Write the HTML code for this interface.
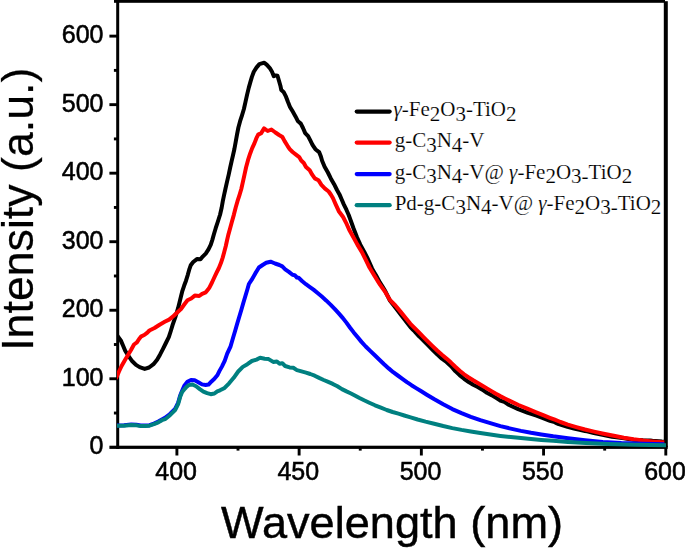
<!DOCTYPE html>
<html><head><meta charset="utf-8"><style>
html,body{margin:0;padding:0;background:#fff;overflow:hidden;}
svg{display:block;position:absolute;left:0;top:0;}
.ov{will-change:transform;}
</style></head><body>
<svg width="685" height="548" viewBox="0 0 685 548">
<defs><clipPath id="pa"><rect x="117" y="0" width="547.3" height="449"/></clipPath><clipPath id="pb"><rect x="117" y="0" width="549" height="449"/></clipPath></defs>
<rect width="685" height="548" fill="#fff"/>
<g fill="#000">
<rect x="116.2" y="0" width="3" height="449"/>
<rect x="109.4" y="445.7" width="558.3" height="3.2"/>
<rect x="114" y="0" width="551" height="2.8"/>
<rect x="663.8" y="1.2" width="4" height="446"/>
</g>
<g stroke="#000" stroke-width="2.9">
<line x1="109.4" y1="378.77" x2="118" y2="378.77"/><line x1="109.4" y1="310.24" x2="118" y2="310.24"/><line x1="109.4" y1="241.71" x2="118" y2="241.71"/><line x1="109.4" y1="173.18" x2="118" y2="173.18"/><line x1="109.4" y1="104.65" x2="118" y2="104.65"/><line x1="109.4" y1="36.12" x2="118" y2="36.12"/><line x1="113.9" y1="413.04" x2="118" y2="413.04"/><line x1="113.9" y1="344.50" x2="118" y2="344.50"/><line x1="113.9" y1="275.98" x2="118" y2="275.98"/><line x1="113.9" y1="207.44" x2="118" y2="207.44"/><line x1="113.9" y1="138.92" x2="118" y2="138.92"/><line x1="113.9" y1="70.38" x2="118" y2="70.38"/><line x1="176.90" y1="447" x2="176.90" y2="455.5"/><line x1="299.12" y1="447" x2="299.12" y2="455.5"/><line x1="421.35" y1="447" x2="421.35" y2="455.5"/><line x1="543.58" y1="447" x2="543.58" y2="455.5"/><line x1="665.80" y1="447" x2="665.80" y2="455.5"/><line x1="238.01" y1="447" x2="238.01" y2="450.6"/><line x1="360.24" y1="447" x2="360.24" y2="450.6"/><line x1="482.46" y1="447" x2="482.46" y2="450.6"/><line x1="604.69" y1="447" x2="604.69" y2="450.6"/>
</g>
<g fill="none" stroke-linejoin="round" stroke-linecap="round" stroke-width="4.0" clip-path="url(#pa)">
<polyline stroke="#000000" points="116.0,335.0 117.5,336.0 120.8,340.4 123.0,345.5 125.2,350.7 128.6,356.2 132.3,361.3 136.0,364.9 139.6,367.1 144.7,368.9 149.1,367.5 153.5,364.2 157.1,359.8 160.0,354.7 163.0,348.9 165.9,343.0 168.8,337.2 170.8,331.0 172.7,324.7 175.7,316.0 178.0,308.4 179.5,302.5 180.9,296.7 182.4,290.8 184.1,285.8 186.0,280.7 187.8,274.8 189.2,269.7 190.7,265.3 193.2,262.0 196.9,259.1 200.5,259.3 202.7,256.6 205.7,253.6 208.5,249.3 210.8,244.6 212.4,239.6 213.9,234.2 215.7,228.2 217.9,221.5 220.1,214.5 221.7,207.5 222.8,201.2 224.0,195.3 225.4,189.0 227.0,181.9 228.7,174.6 230.2,167.5 231.6,161.2 233.0,155.3 234.4,149.0 235.7,141.9 237.0,134.6 238.4,127.5 240.1,121.2 242.0,115.3 243.9,109.0 245.5,101.9 247.1,94.6 248.8,87.6 250.5,81.6 251.9,76.9 253.8,71.8 256.6,67.4 259.4,64.1 261.8,63.4 264.3,62.7 266.9,64.9 269.8,68.1 272.0,71.8 273.8,76.2 275.7,75.4 277.5,75.8 278.9,80.5 280.4,85.7 281.3,90.1 283.8,92.3 286.0,96.7 287.9,101.8 290.0,106.9 292.6,111.3 295.5,116.4 298.0,121.3 300.8,123.6 303.0,128.0 305.2,133.1 308.1,136.1 310.3,140.4 312.5,144.8 315.4,149.2 319.1,152.1 320.9,156.5 322.1,160.8 324.6,166.7 327.9,172.5 330.8,178.4 334.1,184.2 337.0,190.0 339.5,194.4 341.7,199.5 343.9,204.6 346.4,209.7 348.6,214.8 350.8,220.7 353.4,228.0 357.0,237.3 360.3,244.6 364.3,251.9 368.0,259.2 372.0,268.4 374.6,272.9 376.0,275.3 380.0,282.6 383.0,287.4 385.5,291.6 388.0,296.7 389.9,300.5 395.0,307.1 395.4,307.5 400.9,314.7 405.0,320.1 406.3,321.8 410.4,327.1 413.0,329.8 414.6,331.3 419.1,336.3 420.0,337.2 423.7,340.8 428.2,345.4 432.8,350.1 437.4,354.6 441.9,358.7 445.0,360.9 446.5,362.0 451.1,366.3 455.3,371.1 458.0,373.6 459.6,375.1 464.1,378.8 468.7,382.0 470.0,382.8 473.2,384.7 477.8,387.0 482.4,389.7 486.9,392.8 491.5,395.1 496.1,397.9 500.0,400.4 500.3,400.6 504.3,401.9 509.1,405.0 518.2,409.1 527.3,412.6 528.0,412.9 536.5,415.7 543.0,418.1 545.6,419.1 550.0,420.8 554.7,422.2 557.0,423.4 558.8,424.2 567.5,426.9 573.0,428.2 576.3,429.1 585.0,431.0 587.0,431.4 593.8,433.0 602.5,434.7 612.0,436.7 614.5,437.1 624.0,438.2 630.0,439.2 633.5,439.7 643.0,440.2 650.0,440.4 652.4,440.7 661.9,441.6 667.0,441.8"/>
<polyline stroke="#ff0000" points="116.0,378.0 117.5,375.0 119.0,371.5 121.6,366.0 125.0,360.0 128.0,355.0 131.0,350.0 134.0,344.5 136.9,342.4 139.1,339.0 141.3,336.3 144.2,335.0 147.1,332.8 149.4,330.5 154.5,328.0 159.6,324.7 164.7,321.8 169.1,319.6 173.5,316.0 177.5,312.2 181.0,309.0 184.6,304.0 187.5,300.3 191.2,298.5 194.8,295.6 199.2,296.0 202.1,293.8 205.8,292.3 208.0,289.6 209.4,287.6 212.0,282.5 214.4,277.2 216.7,272.4 218.9,268.0 220.9,263.1 222.7,257.6 224.3,251.8 225.8,246.0 227.0,240.5 228.3,234.9 230.0,228.7 231.9,221.8 233.9,214.6 235.7,207.5 237.5,201.2 239.4,195.3 241.3,189.0 242.9,181.9 244.5,174.6 246.1,167.3 248.0,160.2 250.1,153.7 252.2,148.1 254.4,143.4 256.4,138.2 258.2,134.6 261.2,133.1 264.1,128.4 267.7,131.0 271.4,129.5 275.4,132.5 279.1,135.0 282.4,137.0 284.6,141.1 287.5,145.8 289.7,149.1 292.6,152.0 296.3,154.9 299.2,157.1 301.2,160.5 303.8,163.0 306.0,167.0 309.7,170.3 312.2,174.7 314.8,178.4 318.4,180.2 321.4,184.9 325.0,188.6 328.7,191.5 330.8,194.5 332.9,198.0 335.8,204.6 338.8,211.2 343.1,217.0 346.1,222.8 349.2,229.7 353.4,237.3 357.4,244.6 361.8,251.9 365.4,259.2 369.5,267.5 374.6,276.0 380.0,284.7 385.5,292.4 389.9,300.0 395.4,305.5 400.9,312.1 406.3,318.7 410.4,323.8 414.7,328.1 419.2,332.7 423.7,337.3 428.2,341.9 432.8,346.4 437.4,350.8 441.9,354.8 446.5,358.6 451.0,362.6 455.3,366.7 459.7,370.7 464.1,374.3 468.7,377.5 473.2,380.3 477.8,383.0 482.4,385.7 486.9,388.4 491.5,391.1 495.9,393.7 500.2,396.1 504.9,398.5 510.8,401.4 518.5,405.0 527.3,408.7 536.2,412.3 543.8,415.4 549.8,417.8 554.8,419.7 560.5,422.0 567.8,424.6 576.3,427.1 585.0,429.5 594.0,431.6 603.6,433.7 613.8,435.8 623.8,437.7 633.5,439.3 643.0,440.6 652.2,441.4 660.3,442.0 667.0,442.3"/>
<polyline stroke="#0000ff" points="116.0,425.5 124.0,425.2 131.2,424.6 136.4,424.8 140.7,425.5 145.1,425.6 149.5,425.2 153.9,423.6 158.3,421.6 161.9,419.5 165.0,417.8 170.0,414.0 175.1,408.8 178.1,402.8 180.1,395.8 182.1,390.8 184.5,385.4 187.4,381.8 191.0,380.0 194.7,380.3 198.3,382.2 202.0,384.4 205.6,385.0 208.5,384.6 211.5,381.4 214.4,378.8 217.3,375.3 219.5,370.9 221.9,366.6 224.7,360.8 227.2,353.7 230.6,346.3 233.0,338.0 235.1,331.0 237.1,324.0 239.2,317.0 241.3,310.0 243.3,303.0 245.4,296.0 247.5,289.0 248.9,284.0 251.6,279.9 255.3,273.4 258.9,267.5 262.6,265.0 266.2,262.8 270.6,261.7 275.0,263.5 279.4,265.0 282.3,266.4 285.2,269.3 288.9,271.9 292.5,274.8 294.7,275.2 296.9,277.5 298.6,277.8 302.3,281.3 305.9,284.2 309.6,286.8 313.5,289.6 317.6,293.0 321.8,296.6 326.1,300.4 330.5,304.6 334.9,309.1 339.0,313.6 342.9,318.1 346.6,322.9 350.1,327.7 353.7,332.4 357.5,337.1 361.5,341.9 365.7,346.5 370.2,350.9 374.8,355.3 379.4,359.7 384.1,364.2 388.7,368.4 393.2,372.2 397.8,375.5 402.4,378.8 406.9,382.1 411.5,385.2 416.1,388.1 420.9,391.0 426.8,394.7 434.4,399.3 443.2,404.3 452.3,409.1 461.5,413.1 470.8,416.8 480.3,420.2 490.3,423.2 500.4,426.1 510.7,428.6 520.9,430.9 531.0,432.8 541.3,434.5 553.2,436.3 568.0,438.2 585.0,440.2 602.7,441.9 621.4,443.0 642.8,443.7 667.0,444.2"/>
</g>
<g fill="none" stroke-linejoin="round" stroke-linecap="round" stroke-width="4.0" clip-path="url(#pb)">
<polyline stroke="#008080" points="116.0,425.7 124.0,425.7 131.2,425.0 136.4,425.3 140.7,426.1 145.1,426.1 149.5,425.7 153.9,424.2 158.3,422.4 161.9,420.2 165.0,419.2 170.0,415.2 175.1,410.1 178.1,404.1 180.1,397.1 182.1,392.1 184.2,389.5 185.9,387.6 188.8,385.1 192.5,384.5 196.1,386.2 199.8,389.1 203.4,391.6 207.1,393.1 210.7,394.2 214.4,393.5 217.3,391.3 220.0,390.3 224.6,387.9 229.1,383.3 233.7,377.8 238.2,371.5 242.8,366.9 247.4,364.2 251.9,361.0 256.5,359.6 260.1,357.8 264.7,358.7 268.6,359.1 273.2,361.9 276.9,361.4 279.6,363.7 282.3,363.2 285.1,366.0 289.6,367.4 293.3,367.8 296.9,370.1 301.5,371.4 306.0,372.6 310.3,374.0 314.7,375.7 319.1,377.9 323.7,380.0 328.2,381.9 332.8,383.9 337.4,386.3 341.9,389.1 346.5,391.4 351.0,393.5 355.3,395.7 359.5,398.0 364.1,400.3 369.3,402.7 375.0,405.3 380.9,407.7 386.7,410.0 392.6,412.0 398.4,413.7 404.3,415.5 410.6,417.4 417.6,419.5 425.5,421.6 434.2,423.7 443.2,426.0 452.3,428.1 461.5,429.9 470.8,431.5 480.3,433.0 490.3,434.5 500.4,435.9 510.7,437.1 520.9,438.1 531.0,439.1 541.3,440.0 553.2,440.8 568.0,441.9 585.8,443.0 607.7,444.0 635.3,444.8 667.0,445.3"/>
</g>
<g font-family="Liberation Serif, serif" font-size="21" fill="#000" stroke="#fff" stroke-width="0.15">
<line x1="356.8" y1="111.6" x2="389.6" y2="111.6" stroke="#000000" stroke-width="4.3" stroke-linecap="round"/><text x="393.5" y="116.0"><tspan font-style="italic">γ</tspan>-Fe<tspan dy="4.6">2</tspan><tspan dy="-4.6">O</tspan><tspan dy="4.6">3</tspan><tspan dy="-4.6">-TiO</tspan><tspan dy="4.6">2</tspan></text><line x1="356.8" y1="142.6" x2="389.6" y2="142.6" stroke="#ff0000" stroke-width="4.3" stroke-linecap="round"/><text x="394.7" y="147.0">g-C<tspan dy="4.6">3</tspan><tspan dy="-4.6">N</tspan><tspan dy="4.6">4</tspan><tspan dy="-4.6">-V</tspan></text><line x1="356.8" y1="174.1" x2="389.6" y2="174.1" stroke="#0000ff" stroke-width="4.3" stroke-linecap="round"/><text x="394.7" y="178.5">g-C<tspan dy="4.6">3</tspan><tspan dy="-4.6">N</tspan><tspan dy="4.6">4</tspan><tspan dy="-4.6">-V@ </tspan><tspan font-style="italic">γ</tspan>-Fe<tspan dy="4.6">2</tspan><tspan dy="-4.6">O</tspan><tspan dy="4.6">3-</tspan><tspan dy="-4.6">TiO</tspan><tspan dy="4.6">2</tspan></text><line x1="356.8" y1="205.2" x2="389.6" y2="205.2" stroke="#008080" stroke-width="4.3" stroke-linecap="round"/><text x="394.7" y="209.6">Pd-g-C<tspan dy="4.6">3</tspan><tspan dy="-4.6">N</tspan><tspan dy="4.6">4</tspan><tspan dy="-4.6">-V@ </tspan><tspan font-style="italic">γ</tspan>-Fe<tspan dy="4.6">2</tspan><tspan dy="-4.6">O</tspan><tspan dy="4.6">3-</tspan><tspan dy="-4.6">TiO</tspan><tspan dy="4.6">2</tspan></text>
</g>
</svg>
<svg class="ov" width="685" height="548" viewBox="0 0 685 548">
<g font-family="Liberation Sans, sans-serif" font-size="25" fill="#000" stroke="#000" stroke-width="0.55">
<text x="103.5" y="454.30" text-anchor="end">0</text><text x="103.5" y="385.77" text-anchor="end">100</text><text x="103.5" y="317.24" text-anchor="end">200</text><text x="103.5" y="248.71" text-anchor="end">300</text><text x="103.5" y="180.18" text-anchor="end">400</text><text x="103.5" y="111.65" text-anchor="end">500</text><text x="103.5" y="43.12" text-anchor="end">600</text>
<text x="176.10" y="480" text-anchor="middle">400</text><text x="298.32" y="480" text-anchor="middle">450</text><text x="420.55" y="480" text-anchor="middle">500</text><text x="542.78" y="480" text-anchor="middle">550</text><text x="665.00" y="480" text-anchor="middle">600</text>
</g>
<g font-family="Liberation Sans, sans-serif" font-size="45.5" fill="#000" stroke="#000" stroke-width="0.45">
<text x="221" y="538" font-size="45.15">Wavelength (nm)</text>
<text font-size="44.7" stroke-width="0.25" transform="translate(32.8,350.8) rotate(-90)">Intensity (a.u.)</text>
</g>
</svg>
</body></html>
